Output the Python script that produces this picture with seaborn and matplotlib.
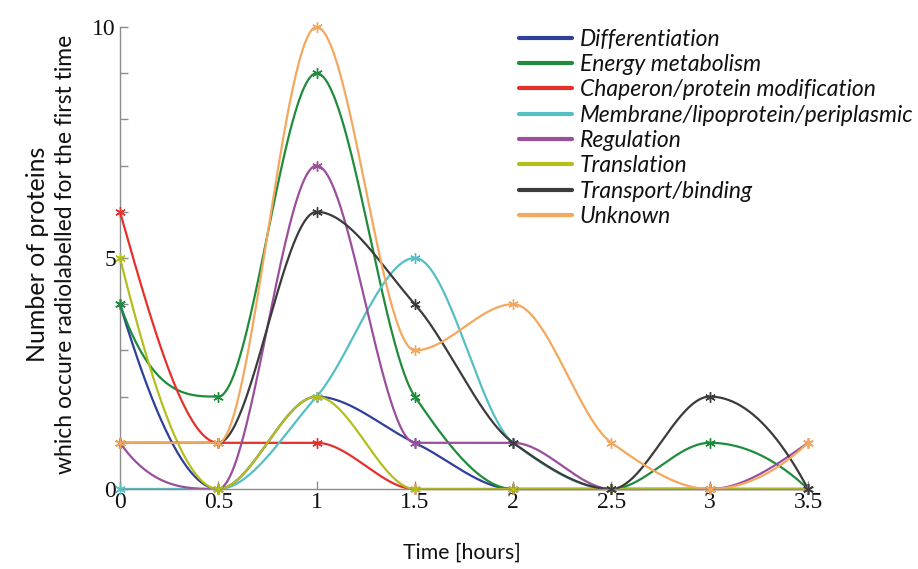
import numpy as np
import pandas as pd
import matplotlib
matplotlib.use("Agg")
import matplotlib.pyplot as plt
from matplotlib.lines import Line2D
import seaborn as sns

# Sampling times (hours)
time_h = [0, 0.5, 1, 1.5, 2, 2.5, 3, 3.5]

# Number of newly radiolabelled proteins per functional class
differentiation = [4, 0, 2, 1, 0, 0, 0, 0]
energy_metabolism = [4, 2, 9, 2, 0, 0, 1, 0]
chaperon = [6, 1, 1, 0, 0, 0, 0, 0]
membrane = [0, 0, 2, 5, 1, 0, 0, 0]
regulation = [1, 0, 7, 1, 1, 0, 0, 1]
translation = [5, 0, 2, 0, 0, 0, 0, 0]
transport = [1, 1, 6, 4, 1, 0, 2, 0]
unknown = [1, 1, 10, 3, 4, 1, 0, 1]

categories = ["Differentiation", "Energy metabolism", "Chaperon/protein modification",
              "Membrane/lipoprotein/periplasmic", "Regulation", "Translation",
              "Transport/binding", "Unknown"]
series = [differentiation, energy_metabolism, chaperon, membrane,
          regulation, translation, transport, unknown]
colors = ["#2f3f9a", "#1f8b3b", "#e5302b", "#55bfc3", "#9a4f9d", "#b4bf1c",
          "#3b3b3b", "#f4a85e"]


def pchip(x, y, xs):
    """Shape-preserving piecewise cubic Hermite interpolation."""
    x = np.asarray(x, float)
    y = np.asarray(y, float)
    h = np.diff(x)
    delta = np.diff(y) / h
    n = len(x)
    d = np.zeros(n)
    for k in range(1, n - 1):
        if delta[k - 1] * delta[k] > 0:
            w1 = 2 * h[k] + h[k - 1]
            w2 = h[k] + 2 * h[k - 1]
            d[k] = (w1 + w2) / (w1 / delta[k - 1] + w2 / delta[k])

    def end(h0, h1, d0, d1):
        s = ((2 * h0 + h1) * d0 - h0 * d1) / (h0 + h1)
        if np.sign(s) != np.sign(d0):
            s = 0.0
        elif np.sign(d0) != np.sign(d1) and abs(s) > abs(3 * d0):
            s = 3 * d0
        return s

    d[0] = end(h[0], h[1], delta[0], delta[1])
    d[-1] = end(h[-1], h[-2], delta[-1], delta[-2])
    idx = np.clip(np.searchsorted(x, xs, side="right") - 1, 0, n - 2)
    t = (xs - x[idx]) / h[idx]
    h00 = 2 * t**3 - 3 * t**2 + 1
    h10 = t**3 - 2 * t**2 + t
    h01 = -2 * t**3 + 3 * t**2
    h11 = t**3 - t**2
    return (h00 * y[idx] + h10 * h[idx] * d[idx]
            + h01 * y[idx + 1] + h11 * h[idx] * d[idx + 1])


xs = np.linspace(time_h[0], time_h[-1], 701)
curves = pd.concat([
    pd.DataFrame({"time": xs, "count": pchip(time_h, vals, xs), "group": name})
    for name, vals in zip(categories, series)
])

sns.set_style("white")
fig = plt.figure(figsize=(9.18, 5.69), dpi=100)
ax = fig.add_axes([0.1307, 0.1406, 0.7495, 0.8119])

palette = dict(zip(categories, colors))
sns.lineplot(data=curves, x="time", y="count", hue="group", hue_order=categories,
             palette=palette, linewidth=1.6, legend=False, ax=ax, clip_on=False,
             estimator=None, sort=False)
for name, vals, c in zip(categories, series, colors):
    ax.plot(time_h, vals, linestyle="none", marker=(6, 2, 0), markersize=7.5,
            markeredgewidth=1.0, color=c, clip_on=False, zorder=3)

ax.set_xlim(0, 3.5)
ax.set_ylim(0, 10)
ax.set_xticks(time_h)
ax.set_xticklabels(["0", "0.5", "1", "1.5", "2", "2.5", "3", "3.5"])
ax.set_yticks(range(0, 11))
ax.set_yticklabels(["0", "", "", "", "", "5", "", "", "", "", "10"])
ax.set_xlabel("")
ax.set_ylabel("")

for side in ["top", "right"]:
    ax.spines[side].set_visible(False)
for side in ["left", "bottom"]:
    ax.spines[side].set_color("#8c8c8c")
    ax.spines[side].set_linewidth(1.0)

serif = "Liberation Serif"
ax.tick_params(axis="both", direction="in", length=6, width=1.0, color="#8c8c8c",
               labelsize=17, labelcolor="#111111")
ax.tick_params(axis="x", pad=2, bottom=True)
ax.tick_params(axis="y", pad=3, left=True)
for lab in ax.get_xticklabels() + ax.get_yticklabels():
    lab.set_fontfamily(serif)

sans = "Lato"
fig.text(0.503, 0.028, "Time [hours]", ha="center", va="center", fontsize=15.3,
         family=sans, color="#111111")
fig.text(0.041, 0.553, "Number of proteins", rotation=90, ha="center", va="center",
         fontsize=18, family=sans, color="#111111")
fig.text(0.071, 0.553, "which occure radiolabelled for the first time", rotation=90,
         ha="center", va="center", fontsize=16.5, family=sans, color="#111111")

handles = [Line2D([], [], color=c, linewidth=3) for c in colors]
leg = fig.legend(handles, categories, loc="upper left",
                 bbox_to_anchor=(0.5534, 0.970), frameon=False, borderpad=0,
                 handlelength=2.27, handletextpad=0.35, labelspacing=0.19,
                 prop={"family": sans, "style": "italic", "size": 16.5})
for t in leg.get_texts():
    t.set_color("#111111")

fig.savefig("out.png", dpi=100)
